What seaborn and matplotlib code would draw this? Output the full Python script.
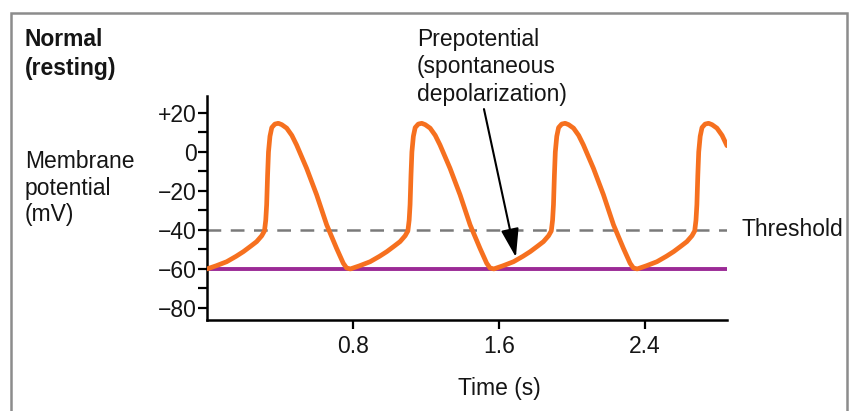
import numpy as np
import pandas as pd
import matplotlib
matplotlib.use("Agg")
import matplotlib.pyplot as plt
import matplotlib.patches as patches
import seaborn as sns

# pacemaker action potential (time in s, membrane potential in mV)
time_s = [
    0.000, 0.050, 0.108, 0.160, 0.200, 0.240, 0.272, 0.300, 0.315, 0.322, 0.327, 0.332, 0.337,
    0.345, 0.355, 0.372, 0.391, 0.410, 0.437, 0.465, 0.491, 0.546, 0.601, 0.656, 0.710, 0.747, 0.765,
    0.786, 0.836, 0.894, 0.946, 0.986, 1.026, 1.058, 1.086, 1.101, 1.108, 1.113, 1.118, 1.123,
    1.131, 1.141, 1.158, 1.177, 1.196, 1.223, 1.251, 1.277, 1.332, 1.387, 1.442, 1.496, 1.533, 1.551,
    1.572, 1.622, 1.680, 1.732, 1.772, 1.812, 1.844, 1.872, 1.887, 1.894, 1.899, 1.904, 1.909,
    1.917, 1.927, 1.944, 1.963, 1.982, 2.009, 2.037, 2.063, 2.118, 2.173, 2.228, 2.282, 2.319, 2.337,
    2.358, 2.408, 2.466, 2.518, 2.558, 2.598, 2.630, 2.658, 2.673, 2.680, 2.685, 2.690, 2.695,
    2.703, 2.713, 2.730, 2.749, 2.768, 2.795, 2.823, 2.850,
]
potential_mv = [
    -60, -58.4, -56.3, -53.5, -51.1, -48.3, -46, -43, -40.5, -35, -27, -12, 0,
    8, 12.5, 14.3, 14.7, 14, 12.2, 8.5, 3.6, -8.4, -22, -37.4, -49.4, -57.1, -59.5,
    -60, -58.4, -56.3, -53.5, -51.1, -48.3, -46, -43, -40.5, -35, -27, -12, 0,
    8, 12.5, 14.3, 14.7, 14, 12.2, 8.5, 3.6, -8.4, -22, -37.4, -49.4, -57.1, -59.5,
    -60, -58.4, -56.3, -53.5, -51.1, -48.3, -46, -43, -40.5, -35, -27, -12, 0,
    8, 12.5, 14.3, 14.7, 14, 12.2, 8.5, 3.6, -8.4, -22, -37.4, -49.4, -57.1, -59.5,
    -60, -58.4, -56.3, -53.5, -51.1, -48.3, -46, -43, -40.5, -35, -27, -12, 0,
    8, 12.5, 14.3, 14.7, 14, 12.2, 8.5, 3.2,
]
threshold_mv = -40
resting_mv = -60
x_ticks = [0.8, 1.6, 2.4]
x_tick_labels = ["0.8", "1.6", "2.4"]
y_ticks = [-80, -60, -40, -20, 0, 20]
y_tick_labels = ["\u221280", "\u221260", "\u221240", "\u221220", "0", "+20"]
y_minor = [-70, -50, -30, -10, 10]

df = pd.DataFrame({"t": time_s, "v": potential_mv})

sns.set_style("ticks")
plt.rcParams["font.family"] = ["Liberation Sans", "DejaVu Sans"]
FS = 16.5
TXT = "#151515"

W, H = 851, 411
fig = plt.figure(figsize=(W / 100, H / 100), dpi=100)
ax = fig.add_axes([207 / W, 1 - 320 / H, 520 / W, 224 / H])

t_end = time_s[-1]
ax.plot([0, t_end], [threshold_mv, threshold_mv], color="#7a7a7a", lw=1.8,
        dashes=(5.5, 3.8), zorder=1)
ax.plot([0, t_end], [resting_mv, resting_mv], color="#9b2a96", lw=2.8,
        solid_capstyle="butt", zorder=2)
sns.lineplot(data=df, x="t", y="v", ax=ax, color="#f6701f", lw=3.4, sort=False,
             zorder=3, solid_capstyle="round")

ax.set_xlim(0, t_end)
ax.set_ylim(-86.2, 28.7)
ax.set_xticks(x_ticks)
ax.set_xticklabels(x_tick_labels)
ax.set_yticks(y_ticks)
ax.set_yticklabels(y_tick_labels)
ax.set_yticks(y_minor, minor=True)
ax.tick_params(axis="both", which="both", labelsize=FS, width=1.6, length=6.5,
               color="black", labelcolor=TXT)
ax.tick_params(axis="y", pad=1)
ax.tick_params(axis="x", pad=4)
for s in ["top", "right"]:
    ax.spines[s].set_visible(False)
for s in ["left", "bottom"]:
    ax.spines[s].set_linewidth(1.8)
    ax.spines[s].set_color("black")

ax.set_ylabel("")
ax.set_xlabel("Time (s)", fontsize=FS, color=TXT)
ax.xaxis.set_label_coords((499 - 207) / 520, (320 - 377) / 224)

ax.text(2.927, threshold_mv, "Threshold", fontsize=FS, color=TXT,
        ha="left", va="center", clip_on=False)

# arrow pointing at the prepotential
ax.annotate("", xy=(1.693, -54), xytext=(1.518, 22), annotation_clip=False,
            arrowprops=dict(arrowstyle="-|>,head_length=0.8,head_width=0.25",
                            mutation_scale=22, color="black", lw=1.5,
                            shrinkA=0, shrinkB=0))

fig.text(25 / W, 1 - 54 / H, "Normal\n(resting)", fontsize=FS, fontweight="bold",
         ha="left", va="center", linespacing=1.3, color=TXT)
fig.text(25 / W, 1 - 188 / H, "Membrane\npotential\n(mV)", fontsize=FS,
         ha="left", va="center", linespacing=1.18, color=TXT)
fig.text(417 / W, 1 - 67 / H, "Prepotential\n(spontaneous\ndepolarization)", fontsize=FS,
         ha="left", va="center", linespacing=1.25, color=TXT)

# grey frame round the figure
fig.patches.append(patches.Rectangle((11 / W, -0.1), (847 - 11) / W, 1.1 - 13.5 / H,
                                     transform=fig.transFigure, fill=False,
                                     edgecolor="#8c8c8c", lw=1.8))

fig.savefig("out.png", dpi=100)
